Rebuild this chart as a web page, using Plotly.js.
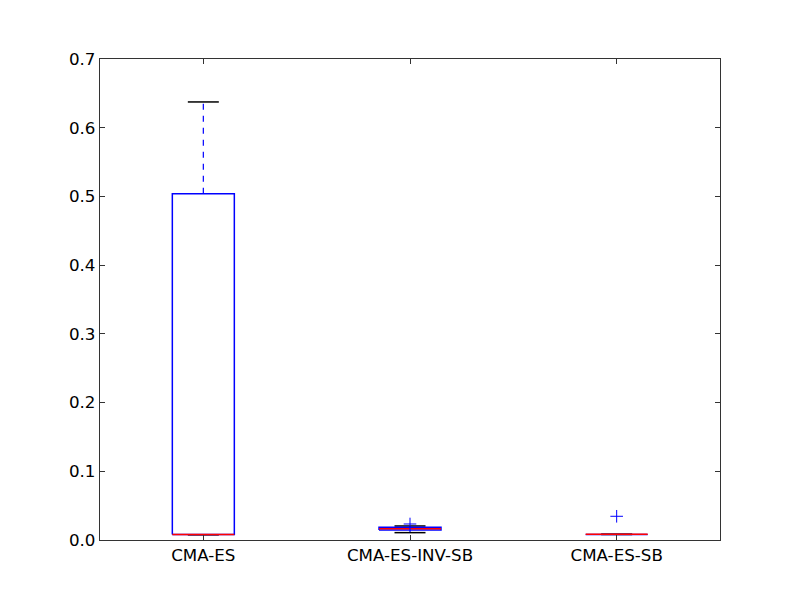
<!DOCTYPE html>
<html><head><meta charset="utf-8">
<script src="https://cdn.plot.ly/plotly-3.0.1.min.js"></script>
<style>body{margin:0;background:#fff}</style>
</head><body>
<div id="chart" style="width:800px;height:600px"></div>
<script>
const categories = ["CMA-ES", "CMA-ES-INV-SB", "CMA-ES-SB"];
const lowerWhisker = [0.0075, 0.0107, 0.0080];
const q1 = [0.0080, 0.0145, 0.0080];
const median = [0.0080, 0.0165, 0.0082];
const q3 = [0.5040, 0.0185, 0.0084];
const upperWhisker = [0.6375, 0.0204, 0.0084];
const outliers = [[], [0.0233], [0.0345]];

const boxHalf = 0.15, capHalf = 0.075;
const traces = [];
categories.forEach((c, k) => {
  const x = k + 1;
  traces.push({x:[x,x,null,x,x], y:[q3[k],upperWhisker[k],null,q1[k],lowerWhisker[k]],
    mode:'lines', line:{color:'#0000ff', width:1.2, dash:'6px,6px'}, hoverinfo:'skip', showlegend:false});
  traces.push({x:[x-capHalf,x+capHalf,null,x-capHalf,x+capHalf],
    y:[upperWhisker[k],upperWhisker[k],null,lowerWhisker[k],lowerWhisker[k]],
    mode:'lines', line:{color:'#000000', width:1.5}, hoverinfo:'skip', showlegend:false});
  traces.push({x:[x-boxHalf,x+boxHalf,x+boxHalf,x-boxHalf,x-boxHalf],
    y:[q1[k],q1[k],q3[k],q3[k],q1[k]],
    mode:'lines', line:{color:'#0000ff', width:1.5}, hoverinfo:'skip', showlegend:false});
  traces.push({x:[x-boxHalf,x+boxHalf], y:[median[k],median[k]],
    mode:'lines', line:{color:'#ff0000', width:1.5}, hoverinfo:'skip', showlegend:false});
  if (outliers[k].length) traces.push({x:outliers[k].map(()=>x), y:outliers[k], mode:'markers',
    marker:{symbol:'cross-thin-open', size:9, color:'#0000ff', line:{color:'#0000ff', width:1}}, showlegend:false});
});

const layout = {
  width:800, height:600,
  margin:{l:100, r:80, t:59, b:60},
  paper_bgcolor:'#fff', plot_bgcolor:'#fff',
  font:{family:'DejaVu Sans', size:16.7, color:'#000'},
  showlegend:false,
  xaxis:{range:[0.5,3.5], tickvals:[1,2,3], ticktext:categories,
    ticks:'inside', ticklen:5, tickcolor:'#333', mirror:'ticks', showline:true, linecolor:'#333', linewidth:1.3,
    showgrid:false, zeroline:false},
  yaxis:{range:[0,0.7], dtick:0.1, tick0:0, tickformat:'.1f',
    ticks:'inside', ticklen:5, tickcolor:'#333', mirror:'ticks', showline:true, linecolor:'#333', linewidth:1.3,
    showgrid:false, zeroline:false}
};
Plotly.newPlot('chart', traces, layout, {displayModeBar:false});
</script>
</body></html>
